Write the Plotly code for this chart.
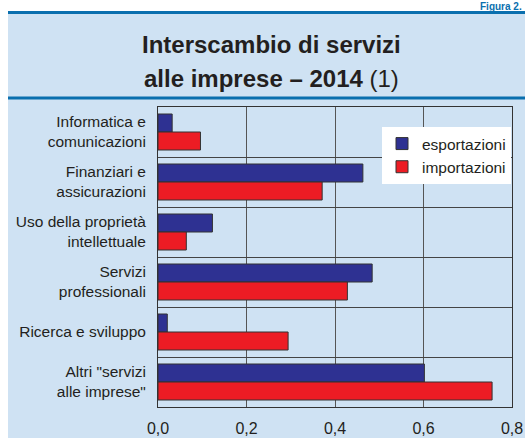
import plotly.graph_objects as go

categories = [
    "Informatica e<br>comunicazioni",
    "Finanziari e<br>assicurazioni",
    "Uso della proprietà<br>intellettuale",
    "Servizi<br>professionali",
    "Ricerca e sviluppo",
    "Altri \"servizi<br>alle imprese\"",
]
esportazioni = [0.032, 0.463, 0.123, 0.484, 0.021, 0.602]
importazioni = [0.096, 0.371, 0.064, 0.428, 0.294, 0.755]
x_ticks = [0.0, 0.2, 0.4, 0.6, 0.8]

FONT = "Arial, Liberation Sans, sans-serif"
TXT = "#231f20"
PANEL = "#cfe2f3"
BLUE_LINE = "#0a6fae"

fig = go.Figure()
fig.add_trace(go.Bar(y=categories, x=esportazioni, orientation="h", name="esportazioni",
                     marker=dict(color="#2e3192", line=dict(color="#333333", width=1))))
fig.add_trace(go.Bar(y=categories, x=importazioni, orientation="h", name="importazioni",
                     marker=dict(color="#ed1c24", line=dict(color="#333333", width=1))))

# plot area in px: left 158, right 512, top 107, bottom 407
W, H = 525, 438
L, R, T, B = 158, 512, 107, 407
pw, ph = R - L, B - T
def px(x):
    return (x - L) / pw
def py(y):
    return (B - y) / ph

shapes = [
    dict(type="rect", xref="paper", yref="paper", x0=px(8), x1=px(W + 5), y0=py(H + 5), y1=py(12),
         fillcolor=PANEL, line=dict(width=0), layer="below"),
    dict(type="line", xref="paper", yref="paper", x0=px(8), x1=px(W + 5), y0=py(12.5), y1=py(12.5),
         line=dict(color=BLUE_LINE, width=3)),
    dict(type="line", xref="paper", yref="paper", x0=px(8), x1=px(W + 5), y0=py(98), y1=py(98),
         line=dict(color=BLUE_LINE, width=3)),
]

annotations = [
    dict(text="<b>Interscambio di servizi</b>", xref="paper", yref="paper", x=px(271), y=py(45),
         xanchor="center", yanchor="middle", showarrow=False, font=dict(family=FONT, size=24, color=TXT)),
    dict(text="<b>alle imprese – 2014</b> (1)", xref="paper", yref="paper", x=px(271), y=py(78),
         xanchor="center", yanchor="middle", showarrow=False, font=dict(family=FONT, size=24, color=TXT)),
    dict(text="<b>Figura 2.</b>", xref="paper", yref="paper", x=px(523), y=py(0),
         xanchor="right", yanchor="top", showarrow=False, borderpad=0,
         font=dict(family=FONT, size=10, color=BLUE_LINE)),
]

fig.update_layout(
    width=W, height=H,
    margin=dict(l=L, r=W - R, t=T, b=H - B),
    paper_bgcolor="white", plot_bgcolor="white",
    barmode="group", bargap=0.28, bargroupgap=0,
    separators=",.",
    font=dict(family=FONT, size=15.5, color=TXT),
    shapes=shapes, annotations=annotations,
    legend=dict(x=px(382), y=py(127), xanchor="left", yanchor="top", bgcolor="white",
                traceorder="normal", font=dict(size=15.5, color=TXT)),
    xaxis=dict(range=[0, 0.8], tickvals=x_ticks, tickformat=".1f", showgrid=True, gridcolor="#555555",
               gridwidth=1, showline=True, linecolor="#333333", linewidth=1, mirror=True,
               zeroline=False, ticks="", ticklabelstandoff=7, automargin=False,
               tickfont=dict(size=16, color=TXT)),
    yaxis=dict(autorange="reversed", tickson="boundaries", showgrid=True, gridcolor="#444444",
               gridwidth=1, showline=True, linecolor="#333333", linewidth=1, mirror=True,
               ticks="", ticklabelstandoff=8, automargin=False, tickfont=dict(size=15.5, color=TXT)),
)

fig.write_html("out.html", config={"displayModeBar": False},
               post_script="document.body.style.margin='0';document.body.style.overflow='hidden';")
